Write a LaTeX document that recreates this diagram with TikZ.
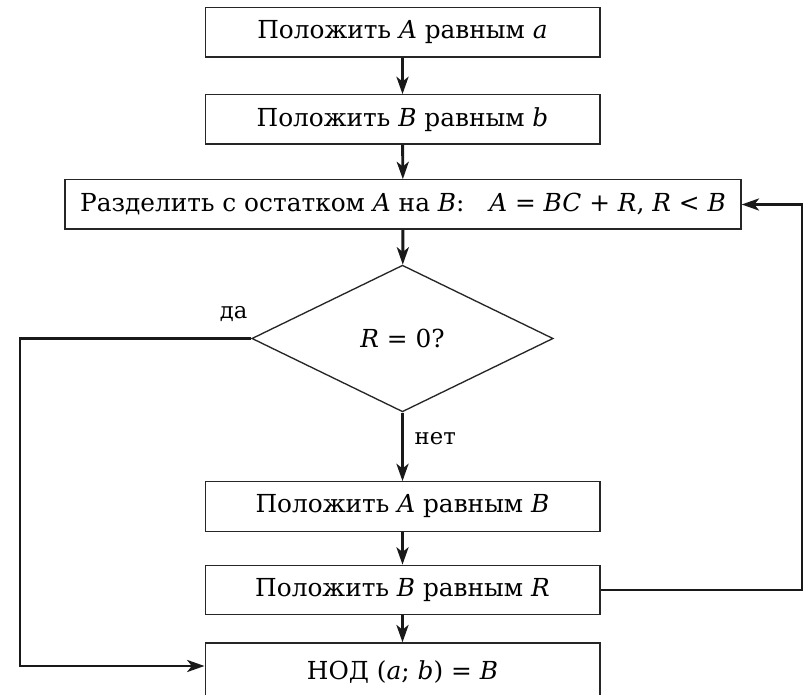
\documentclass[tikz,border=0pt]{standalone}
\usepackage{fontspec}
\setmainfont{DejaVu Serif}
\usetikzlibrary{shapes.geometric,arrows.meta}
\begin{document}
\begin{tikzpicture}[x=0.75pt,y=-0.75pt,
  box/.style={draw=black!85,line width=1pt,fill=white,inner sep=0pt,minimum width=296pt,minimum height=37pt,font=\fontsize{18.6}{21}\selectfont},
  dec/.style={draw=black!85,line width=1pt,diamond,inner sep=0pt,minimum width=226pt,minimum height=110pt,font=\fontsize{18.6}{21}\selectfont},
  conn/.style={draw=black!90,line width=2.2pt},
  arr/.style={conn,-{Stealth[length=13pt,width=9pt,inset=3.5pt]}},
  lab/.style={font=\fontsize{17}{19}\selectfont}]
\useasboundingbox[fill=white] (0,0) rectangle (804,695);
\node[box] (b1) at (402.5,32.5) {Положить \textit{A} равным \textit{a}};
\node[box] (b2) at (402.5,119.5) {Положить \textit{B} равным \textit{b}};
\node[box,minimum width=507pt] (b3) at (403,204.5) {Разделить с остатком \textit{A} на \textit{B}:\quad \textit{A} = \textit{BC} + \textit{R}, \textit{R} < \textit{B}};
\node[dec] (d) at (402.5,338.5) {\textit{R} = 0?};
\node[box] (b4) at (402.5,506.5) {Положить \textit{A} равным \textit{B}};
\node[box] (b5) at (402.5,590) {Положить \textit{B} равным \textit{R}};
\node[box,minimum height=46pt] (b6) at (402.5,673.7) {\raisebox{5.5pt}{НОД (\textit{a}; \textit{b}) = \textit{B}}};
\coordinate (cl) at (20,338.5);
\coordinate (cr) at (802,204.5);
\coordinate (b6in) at (b6.north west |- 0,666);
\draw[arr] (b1) -- (b2);
\draw[arr] (b2) -- (b3);
\draw[arr] (b3) -- (d);
\draw[arr] (d) -- (b4);
\draw[arr] (b4) -- (b5);
\draw[arr] (b5) -- (b6);
\draw[arr] (d.west) -- (cl) |- (b6in);
\draw[arr] (b5.east) -| (cr) -- (b3.east);
\node[lab,anchor=south east] (da) at (252,326) {да};
\node[lab,anchor=north west] (net) at (410,428) {нет};
\end{tikzpicture}
\end{document}
